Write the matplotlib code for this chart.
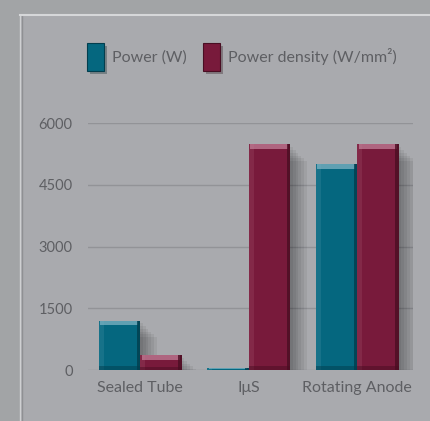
import matplotlib
matplotlib.use("Agg")
import matplotlib.pyplot as plt
import matplotlib.patches as mpatches
import matplotlib.patheffects as pe
import numpy as np

categories = ["Sealed Tube", "IμS", "Rotating Anode"]
power_w = [1200, 40, 5000]
power_density = [360, 5480, 5480]
series_labels = ["Power (W)", "Power density (W/mm²)"]
yticks = [0, 1500, 3000, 4500, 6000]

blue = "#05677f"
red = "#781a3b"
blue_light = "#7fb4c4"
red_light = "#c27f98"
blue_dark = "#023e4e"
red_dark = "#4a0e23"
text_col = "#5e5f63"

plt.rcParams['font.family'] = ['Lato', 'DejaVu Sans']

fig = plt.figure(figsize=(4.30, 4.21), dpi=100)
fig.patch.set_facecolor("#a2a4a6")

W, H = 430, 421
bg = fig.add_axes([20 / W, 0, 1 - 20 / W, 1 - 15 / H], zorder=0)
bg.set_facecolor("#a9aaae")
bg.set_xticks([]); bg.set_yticks([])
for s in bg.spines.values():
    s.set_visible(False)
bg.spines["top"].set_visible(True); bg.spines["top"].set_color("#d6d7d9"); bg.spines["top"].set_linewidth(1.5)
bg.spines["left"].set_visible(True); bg.spines["left"].set_color("#cfd0d2"); bg.spines["left"].set_linewidth(1.0)
bg.axvline(0.004, color="#8f9093", lw=1.0)

ax = fig.add_axes([88 / W, 1 - 370 / H, (413 - 88) / W, (370 - 123) / H], zorder=2)
ax.set_facecolor("none")
x = np.arange(len(categories))
bw = 0.383
ax.set_xlim(-0.48, 2.515)
ax.set_ylim(0, 6000)

shadow_fx = [pe.SimplePatchShadow(offset=(o, -o), shadow_rgbFace="black", alpha=0.06) for o in (2, 4, 6, 8, 10, 12)] + [pe.Normal()]

def draw_series(xpos, vals, col, light, dark, label):
    bars = ax.bar(xpos, vals, bw, color=col, zorder=3, label=label, linewidth=0)
    for b in bars:
        b.set_path_effects(shadow_fx)
    vals = np.array(vals, dtype=float)
    hl = np.minimum(110, vals * 0.45)
    ax.bar(xpos, hl, bw * 0.92, bottom=vals - hl, color=light, zorder=4, linewidth=0, alpha=0.75)
    ax.bar(xpos - bw * 0.44, vals, bw * 0.12, color=light, zorder=3.5, linewidth=0, alpha=0.15)
    ax.bar(xpos + bw * 0.46, vals, bw * 0.08, color=dark, zorder=4, linewidth=0, alpha=0.8)
    bh = np.minimum(90, vals * 0.2)
    ax.bar(xpos, bh, bw, color=dark, zorder=4, linewidth=0, alpha=0.5)
    return bars

b1 = draw_series(x - bw / 2, power_w, blue, blue_light, blue_dark, series_labels[0])
b2 = draw_series(x + bw / 2, power_density, red, red_light, red_dark, series_labels[1])

ax.set_yticks(yticks)
ax.set_yticklabels([str(t) for t in yticks])
ax.set_xticks(x)
ax.set_xticklabels(categories)
ax.tick_params(axis="y", length=0, pad=11, labelsize=10.5, labelcolor=text_col)
ax.tick_params(axis="x", length=0, pad=8, labelsize=11.5, labelcolor=text_col)
ax.yaxis.grid(True, color="#929397", lw=1.0, zorder=0)
ax.set_axisbelow(True)
for s in ax.spines.values():
    s.set_visible(False)

handles = [mpatches.Patch(facecolor=blue, edgecolor=blue_dark, lw=0.8),
           mpatches.Patch(facecolor=red, edgecolor=red_dark, lw=0.8)]
for h in handles:
    h.set_path_effects([pe.SimplePatchShadow(offset=(2, -2), alpha=0.3), pe.Normal()])
leg = fig.legend(handles, series_labels, loc="center left",
                 bbox_to_anchor=(87 / W, 1 - 57 / H), ncol=2, frameon=False,
                 fontsize=11.5, handlelength=1.05, handleheight=2.3, handletextpad=0.5,
                 columnspacing=1.05, borderpad=0, borderaxespad=0)
leg.set_zorder(5)
for t in leg.get_texts():
    t.set_color(text_col)

fig.savefig("out.png", dpi=100, facecolor=fig.get_facecolor())
